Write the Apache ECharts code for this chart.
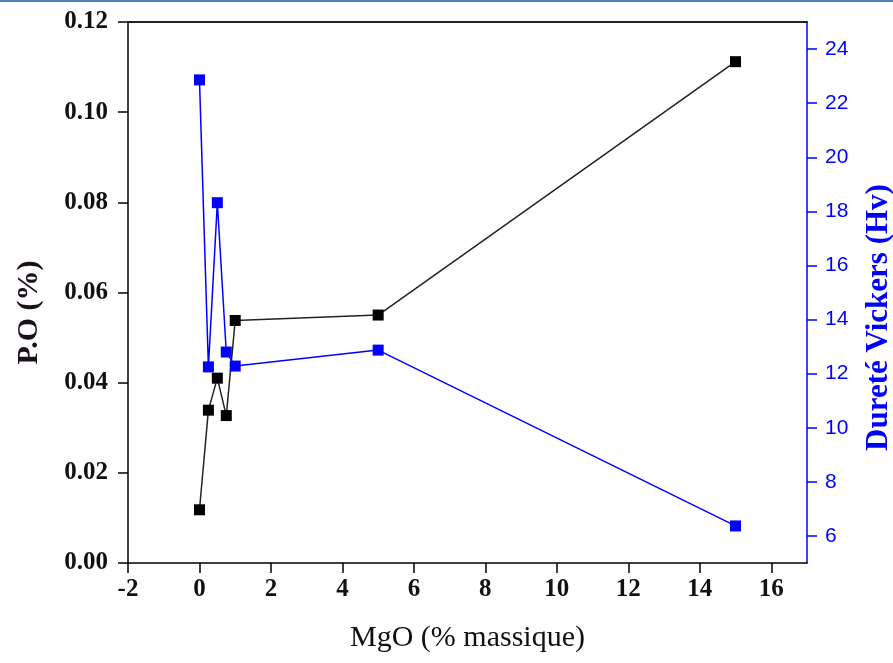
<!DOCTYPE html>
<html>
<head>
<meta charset="utf-8">
<script src="https://cdn.jsdelivr.net/npm/echarts@6/dist/echarts.min.js"></script>
<style>
html,body{margin:0;padding:0;background:#fff;}
#topbar{width:893px;height:2px;background:#4f81bd;}
#chart{width:893px;height:661px;}
</style>
</head>
<body>
<div id="topbar"></div>
<div id="chart"></div>
<script>
const mgo = [0, 0.25, 0.5, 0.75, 1, 5, 15];
const po = [0.0118, 0.0339, 0.041, 0.0327, 0.0538, 0.055, 0.1112];
const hv = [22.86, 12.25, 18.32, 12.80, 12.28, 12.87, 6.37];
const xTicks = [-2, 0, 2, 4, 6, 8, 10, 12, 14, 16];
const hvTicks = [6, 8, 10, 12, 14, 16, 18, 20, 22, 24];

const chart = echarts.init(document.getElementById('chart'), null, {renderer: 'canvas'});
const serif = 'Liberation Serif';
const sans = 'Liberation Sans';
const blue = '#0000ff';

const option = {
  animation: false,
  backgroundColor: '#fff',
  grid: {left: 128, right: 86, top: 20, bottom: 100, containLabel: false, outerBoundsMode: 'none'},
  xAxis: [{
    type: 'value', min: -2, max: 17,
    name: 'MgO (% massique)', nameLocation: 'middle', nameGap: 60,
    nameTextStyle: {fontFamily: serif, fontSize: 30, color: '#111'},
    axisLine: {onZero: false, lineStyle: {color: '#000', width: 1.5}},
    axisTick: {customValues: xTicks, length: 10, lineStyle: {color: '#000', width: 1.5}},
    axisLabel: {customValues: xTicks, margin: 14, fontFamily: serif, fontWeight: 'bold', fontSize: 25, color: '#111'},
    splitLine: {show: false}
  }, {
    type: 'value', min: -2, max: 17, position: 'top',
    axisLine: {show: true, onZero: false, lineStyle: {color: '#222', width: 2}},
    axisTick: {show: false}, axisLabel: {show: false}, splitLine: {show: false}
  }],
  yAxis: [{
    type: 'value', min: 0, max: 0.12, interval: 0.02, position: 'left',
    name: 'P.O (%)', nameLocation: 'middle', nameGap: 84,
    nameTextStyle: {fontFamily: serif, fontWeight: 'bold', fontSize: 30, color: '#1a0f1a', padding: [0, 40, 0, 0]},
    axisLine: {show: true, onZero: false, lineStyle: {color: '#000', width: 1.5}},
    axisTick: {show: true, length: 10, lineStyle: {color: '#000', width: 1.5}},
    axisLabel: {margin: 20, fontFamily: serif, fontWeight: 'bold', fontSize: 25, color: '#111',
      formatter: v => v.toFixed(2)},
    splitLine: {show: false}
  }, {
    type: 'value', min: 5, max: 25, position: 'right',
    name: 'Dureté Vickers (Hv)', nameLocation: 'middle', nameGap: 56,
    nameTextStyle: {fontFamily: serif, fontWeight: 'bold', fontSize: 31, color: blue, padding: [0, 50, 0, 0]},
    axisLine: {show: true, onZero: false, lineStyle: {color: blue, width: 1.5}},
    axisTick: {show: true, customValues: hvTicks, length: 10, lineStyle: {color: blue, width: 1.5}},
    axisLabel: {customValues: hvTicks, margin: 18, fontFamily: sans, fontSize: 21, color: blue},
    splitLine: {show: false}
  }],
  series: [{
    type: 'line', xAxisIndex: 0, yAxisIndex: 0,
    data: mgo.map((x, i) => [x, po[i]]),
    symbol: 'rect', symbolSize: 11,
    lineStyle: {color: '#222', width: 1.5},
    itemStyle: {color: '#000'}
  }, {
    type: 'line', xAxisIndex: 0, yAxisIndex: 1,
    data: mgo.map((x, i) => [x, hv[i]]),
    symbol: 'rect', symbolSize: 11,
    lineStyle: {color: blue, width: 1.5},
    itemStyle: {color: blue}
  }]
};
chart.setOption(option);
</script>
</body>
</html>
